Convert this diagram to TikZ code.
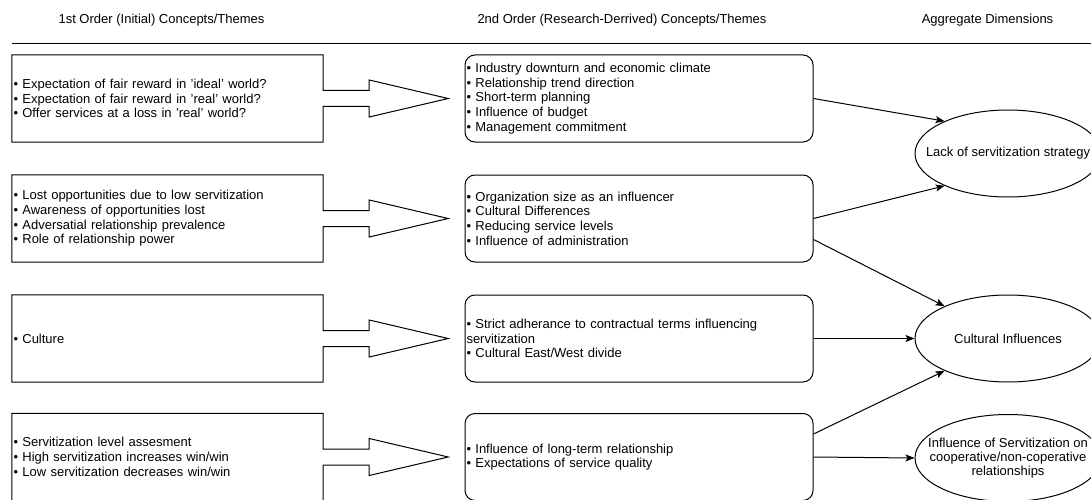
\documentclass[tikz,border=0pt]{standalone}
\usepackage{fontspec}
\setmainfont{Liberation Sans}
\usetikzlibrary{shapes.geometric,calc,arrows.meta}
\begin{document}
\begin{tikzpicture}[x=1pt,y=-1pt,
  every node/.style={font=\fontsize{13}{14.7}\selectfont},
  firstbox/.style={minimum width=311pt, minimum height=87pt, inner xsep=1.5pt, text width=308pt, align=left},
  secondbox/.style={draw, rounded corners=10pt, line width=1pt, minimum width=348pt, minimum height=87pt, inner xsep=1.5pt, text width=345pt, align=left},
  agg/.style={draw, ellipse, line width=1pt, minimum width=186pt, minimum height=87pt, inner sep=0pt},
  link/.style={line width=1pt, -{Stealth[length=9pt,width=7pt,inset=2pt]}},
  outline/.style={line width=1pt, line join=miter}]
\useasboundingbox (0,0) rectangle (1091,500);

% column headings and rule
\node (h1) at (161.5,20) {1st Order (Initial) Concepts/Themes};
\node (h2) at (622,20) {2nd Order (Research-Derrived) Concepts/Themes};
\node (h3) at (987.5,20) {Aggregate Dimensions};
\coordinate (rs) at (12,44);
\coordinate (re) at (1091,44);
\draw[line width=1pt] (rs) -- (re);

% first order concepts
\node[firstbox] (f1) at (167.5,98.5) {• Expectation of fair reward in 'ideal' world?\\• Expectation of fair reward in 'real' world?\\• Offer services at a loss in 'real' world?};
\node[firstbox] (f2) at (167.5,218.5) {• Lost opportunities due to low servitization\\• Awareness of opportunities lost\\• Adversatial relationship prevalence\\• Role of relationship power};
\node[firstbox] (f3) at (167.5,338.5) {• Culture};
\node[firstbox] (f4) at (167.5,457) {• Servitization level assesment\\• High servitization increases win/win\\• Low servitization decreases win/win};

% box outlines merged with their block arrows
\foreach \b in {f1,f2,f3,f4}{
  \draw[outline] (\b.north west) -- (\b.north east) -- ($(\b.east)+(0,-8)$)
    -- ($(\b.east)+(46,-8)$) -- ($(\b.east)+(46,-18.5)$) -- ($(\b.east)+(125,0)$)
    -- ($(\b.east)+(46,18.5)$) -- ($(\b.east)+(46,8)$) -- ($(\b.east)+(0,8)$)
    -- (\b.south east) -- (\b.south west) -- cycle;
}

% second order concepts
\node[secondbox] (s1) at (639,98.5) {• Industry downturn and economic climate\\• Relationship trend direction\\• Short-term planning\\• Influence of budget\\• Management commitment};
\node[secondbox] (s2) at (639,218.5) {• Organization size as an influencer\\• Cultural Differences\\• Reducing service levels\\• Influence of administration};
\node[secondbox] (s3) at (639,338.5) {• Strict adherance to contractual terms influencing\\servitization\\• Cultural East/West divide};
\node[secondbox] (s4) at (639,457) {• Influence of long-term relationship\\• Expectations of service quality};

% aggregate dimensions
\node[agg, label={center:Lack of servitization strategy}] (a1) at (1008,153.5) {};
\node[agg, label={center:Cultural Influences}] (a2) at (1008,338.5) {};
\node[agg, label={[align=center,font=\fontsize{13}{14}\selectfont]center:Influence of Servitization on\\cooperative/non-coperative\\relationships}] (a3) at (1008,458) {};

% links
\draw[link] (s1.east) -- (a1.153);
\draw[link] (s2.east) -- (a1.207);
\draw[link] ($(s2.east)+(0,21)$) -- (a2.153);
\draw[link] (s3.east) -- (a2.west);
\draw[link] ($(s4.east)+(0,-23)$) -- (a2.207);
\draw[link] (s4.east) -- (a3.west);
\end{tikzpicture}
\end{document}
